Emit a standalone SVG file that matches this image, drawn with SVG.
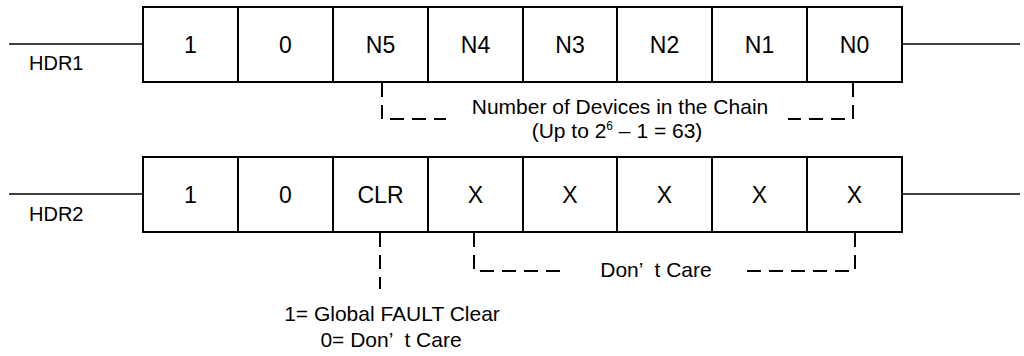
<svg xmlns="http://www.w3.org/2000/svg" width="1024" height="356" viewBox="0 0 1024 356">
<style>
.cell{fill:#fff;stroke:#000;stroke-width:2}
.lead{stroke:#000;stroke-width:1.5;fill:none}
.dash{stroke:#000;stroke-width:2;fill:none;stroke-dasharray:14 8}
text{font-family:"Liberation Sans",Arial,sans-serif;fill:#000}
.ct{font-size:23px;text-anchor:middle}
.lbl{font-size:20px}
.ann{font-size:21px;text-anchor:middle}
</style>
<rect width="1024" height="356" fill="#fff"/>
<g id="connectors">
<line class="lead" x1="9" y1="44" x2="143" y2="44"/>
<line class="lead" x1="902" y1="44" x2="1020" y2="44"/>
<line class="lead" x1="9" y1="194" x2="143" y2="194"/>
<line class="lead" x1="902" y1="194" x2="1020" y2="194"/>
<path class="dash" d="M382,83 V119 H446"/>
<path class="dash" d="M853,83 V119 H788"/>
<path class="dash" d="M380,233 V289"/>
<path class="dash" d="M474,233 V271 H560"/>
<path class="dash" d="M855,233 V271 H742"/>
</g>
<g id="hdr1">
<text class="lbl" x="29" y="70">HDR1</text>
</g>
<g id="hdr2">
<text class="lbl" x="29" y="221">HDR2</text>
</g>
<g id="row1">
<rect class="cell" x="143" y="7" width="759" height="75"/>
<path stroke="#000" stroke-width="2" d="M238,7V82M333,7V82M428,7V82M523,7V82M617,7V82M712,7V82M807,7V82"/>
<text class="ct" x="190.5" y="52.5">1</text>
<text class="ct" x="285.5" y="52.5">0</text>
<text class="ct" x="380.5" y="52.5">N5</text>
<text class="ct" x="475.5" y="52.5">N4</text>
<text class="ct" x="570" y="52.5">N3</text>
<text class="ct" x="664.5" y="52.5">N2</text>
<text class="ct" x="759.5" y="52.5">N1</text>
<text class="ct" x="854.5" y="52.5">N0</text>
</g>
<g id="row2">
<rect class="cell" x="143" y="157" width="759" height="75"/>
<path stroke="#000" stroke-width="2" d="M238,157V232M333,157V232M428,157V232M523,157V232M617,157V232M712,157V232M807,157V232"/>
<text class="ct" x="190.5" y="202.5">1</text>
<text class="ct" x="285.5" y="202.5">0</text>
<text class="ct" x="380.5" y="202.5">CLR</text>
<text class="ct" x="475.5" y="202.5">X</text>
<text class="ct" x="570" y="202.5">X</text>
<text class="ct" x="664.5" y="202.5">X</text>
<text class="ct" x="759.5" y="202.5">X</text>
<text class="ct" x="854.5" y="202.5">X</text>
</g>
<g id="note-count">
<text class="ann" x="620" y="114">Number of Devices in the Chain</text>
<text class="ann" x="617" y="138">(Up to 2<tspan font-size="12" dy="-8">6</tspan><tspan dy="8"> – 1 = 63)</tspan></text>
</g>
<g id="note-clr">
<text class="ann" x="392" y="321">1= Global FAULT Clear</text>
<text class="ann" x="391" y="347">0= Don’<tspan dx="6"> t Care</tspan></text>
</g>
<g id="note-dc">
<text class="ann" x="656" y="277">Don’<tspan dx="6"> t Care</tspan></text>
</g>
</svg>
